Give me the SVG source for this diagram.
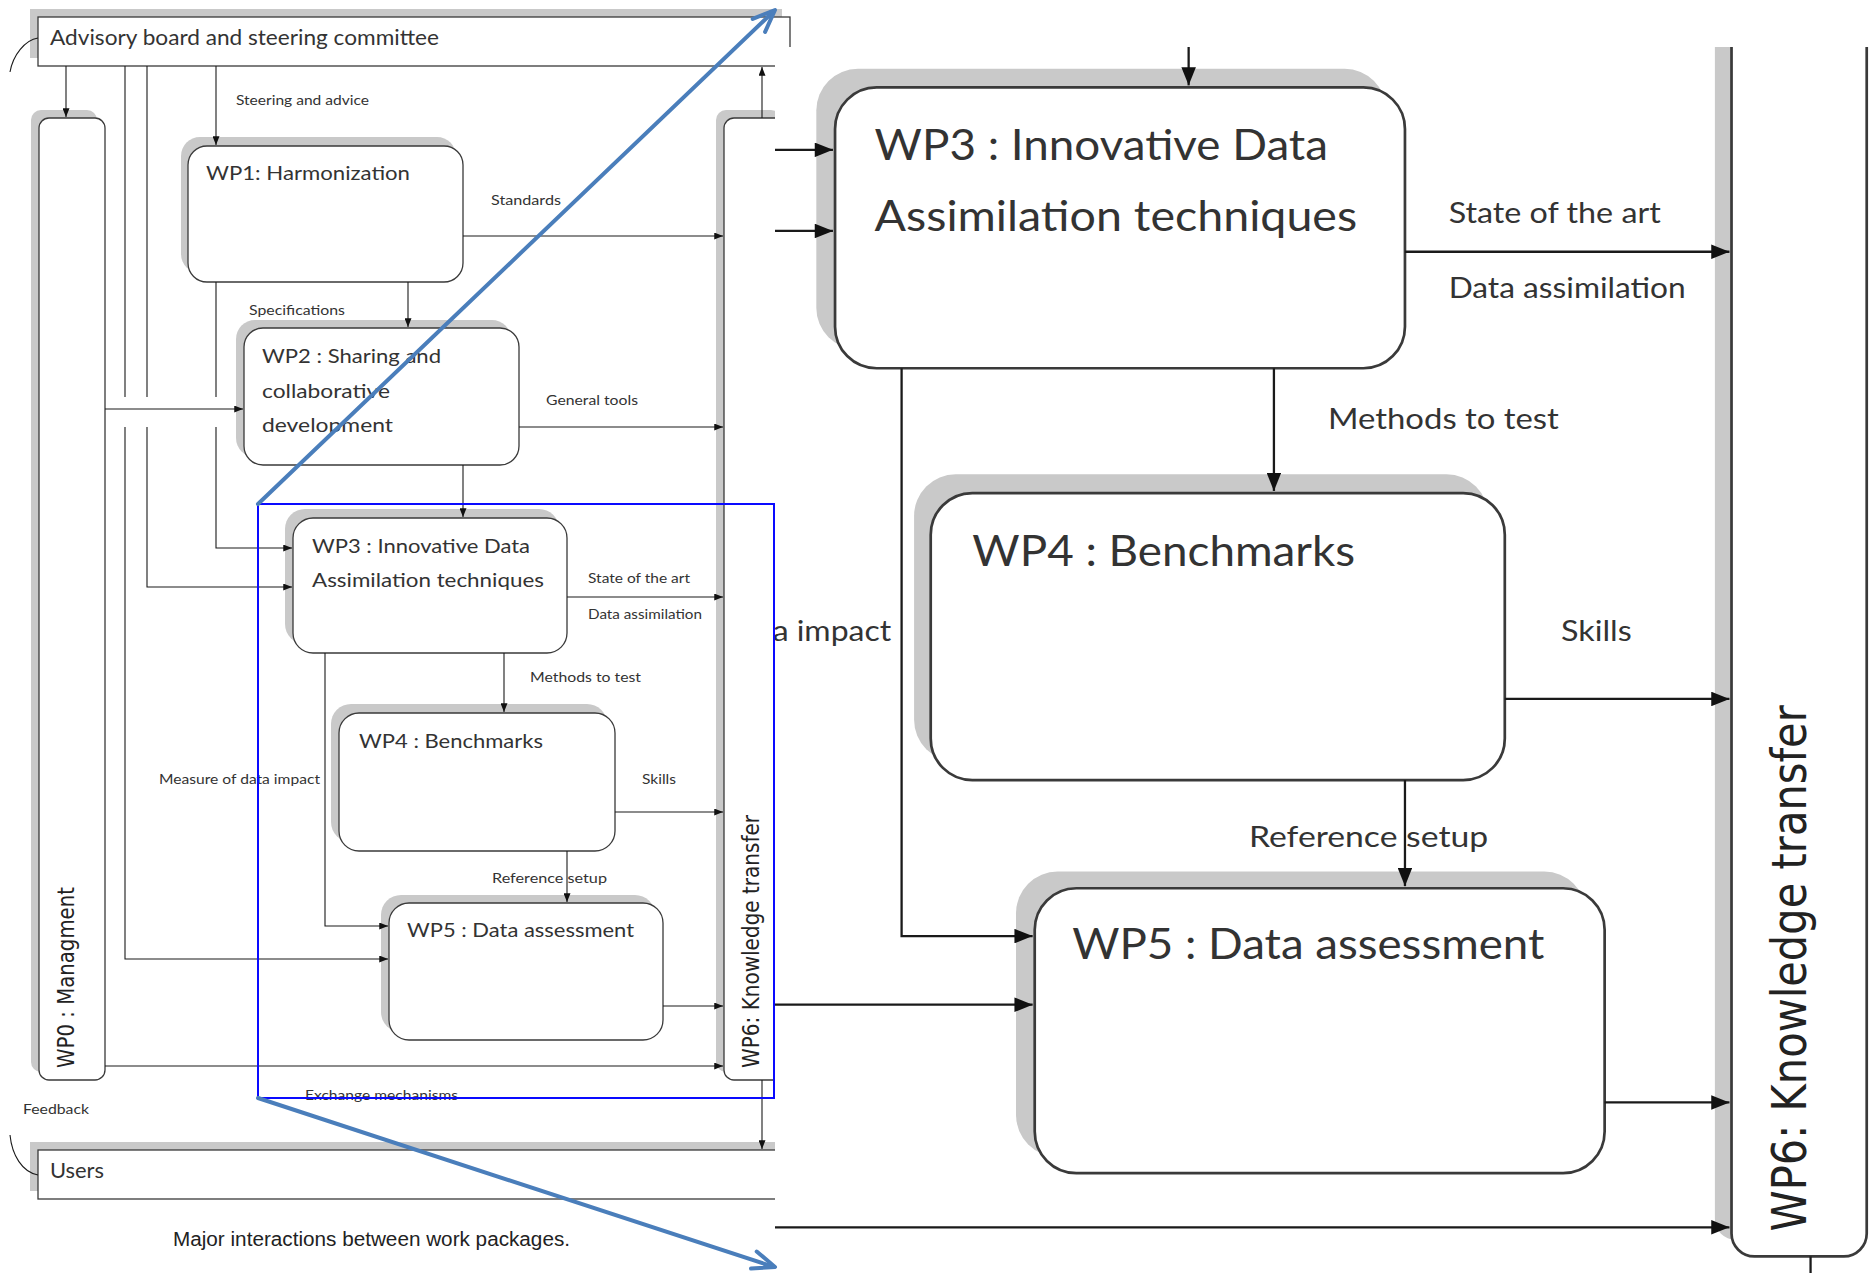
<svg xmlns="http://www.w3.org/2000/svg" width="1874" height="1273" viewBox="0 0 1874 1273">
  <defs>
    <marker id="ah" viewBox="0 0 10 8" refX="10" refY="4" markerWidth="9" markerHeight="7" markerUnits="userSpaceOnUse" orient="auto">
      <path d="M0,0 L10,4 L0,8 z" fill="#111"/>
    </marker>
    <clipPath id="insetClip">
      <rect x="775" y="47" width="1099" height="1226"/>
    </clipPath>
  </defs>
  <style>
    .box { fill: #fff; stroke: #3a3a3a; stroke-width: 1.3; }
    .sh { fill: #c9c9c9; }
    .ln { fill: none; stroke: #1a1a1a; stroke-width: 1.1; }
    .arr { marker-end: url(#ah); }
    .hd { font-family: Lato, "Liberation Sans", sans-serif; font-size: 20px; fill: #333; }
    .big { font-family: Lato, "Liberation Sans", sans-serif; font-size: 21.5px; fill: #333; }
    .lbl { font-family: Lato, "Liberation Sans", sans-serif; font-size: 14px; fill: #333; }
    .vt { font-family: "DejaVu Sans", Verdana, sans-serif; font-size: 19.7px; fill: #222; }
    .cap { font-family: "Liberation Sans", Arial, sans-serif; font-size: 19.5px; fill: #222; }
    .blue { fill: none; stroke: #4a7ebb; stroke-width: 4; stroke-linecap: round; stroke-linejoin: round; }
  </style>

  <rect width="1874" height="1273" fill="#fff"/>

  <!-- ===== Overview panel ===== -->
  <g id="advisory">
    <rect class="sh" x="30" y="9" width="752" height="49"/>
    <rect class="box" x="38" y="17" width="752" height="49"/>
    <text class="big" x="50" y="45" textLength="389" lengthAdjust="spacingAndGlyphs">Advisory board and steering committee</text>
  </g>

  <g id="wp0">
    <rect class="sh" x="31" y="110" width="66" height="962" rx="10"/>
    <rect class="box" x="39" y="118" width="66" height="962" rx="10"/>
    <text class="vt" transform="translate(73.5,1068) rotate(-90) scale(1,1.15)" textLength="181" lengthAdjust="spacingAndGlyphs">WP0 : Managment</text>
  </g>

  <g id="wp6">
    <rect class="sh" x="716" y="110" width="65" height="962" rx="10"/>
    <rect class="box" x="724" y="118" width="65" height="962" rx="10"/>
    <text class="vt" transform="translate(759,1068) rotate(-90) scale(1,1.15)" textLength="253" lengthAdjust="spacingAndGlyphs">WP6:  Knowledge transfer</text>
  </g>

  <g id="wp1">
    <rect class="sh" x="181" y="137" width="275" height="136" rx="19"/>
    <rect class="box" x="188" y="146" width="275" height="136" rx="19"/>
    <text class="hd" x="206" y="180" textLength="204" lengthAdjust="spacingAndGlyphs">WP1: Harmonization</text>
  </g>

  <g id="wp2">
    <rect class="sh" x="236" y="320" width="275" height="137" rx="19"/>
    <rect class="box" x="244" y="328" width="275" height="137" rx="19"/>
    <text class="hd" x="262" y="363" textLength="179" lengthAdjust="spacingAndGlyphs">WP2 : Sharing and</text>
    <text class="hd" x="262" y="398" textLength="128" lengthAdjust="spacingAndGlyphs">collaborative</text>
    <text class="hd" x="262" y="432" textLength="131" lengthAdjust="spacingAndGlyphs">development</text>
  </g>

  <g id="wp3">
    <rect class="sh" x="285" y="509" width="274" height="135" rx="20"/>
    <rect class="box" x="293" y="518" width="274" height="135" rx="20"/>
    <text class="hd" x="312" y="553" textLength="218" lengthAdjust="spacingAndGlyphs">WP3 : Innovative Data</text>
    <text class="hd" x="312" y="587" textLength="232" lengthAdjust="spacingAndGlyphs">Assimilation  techniques</text>
  </g>

  <g id="wp4">
    <rect class="sh" x="331" y="704" width="276" height="138" rx="20"/>
    <rect class="box" x="339" y="713" width="276" height="138" rx="20"/>
    <text class="hd" x="359" y="748" textLength="184" lengthAdjust="spacingAndGlyphs">WP4 : Benchmarks</text>
  </g>

  <g id="wp5">
    <rect class="sh" x="381" y="895" width="274" height="137" rx="20"/>
    <rect class="box" x="389" y="903" width="274" height="137" rx="20"/>
    <text class="hd" x="407" y="937" textLength="227" lengthAdjust="spacingAndGlyphs">WP5 : Data assessment</text>
  </g>

  <g id="users">
    <rect class="sh" x="30" y="1142" width="752" height="49"/>
    <rect class="box" x="38" y="1150" width="752" height="49"/>
    <text class="big" x="50" y="1178" textLength="54" lengthAdjust="spacingAndGlyphs">Users</text>
  </g>

  <g id="connectors">
    <path class="ln arr" d="M66,66 V117"/>
    <path class="ln arr" d="M125,66 V397 M125,427 V959 H388"/>
    <path class="ln arr" d="M147,66 V397 M147,427 V587 H292"/>
    <path class="ln arr" d="M216,66 V145"/>
    <path class="ln arr" d="M216,282 V397 M216,427 V548 H292"/>
    <path class="ln arr" d="M463,236 H723"/>
    <path class="ln arr" d="M408,282 V327"/>
    <path class="ln arr" d="M105,409 H243"/>
    <path class="ln arr" d="M519,427 H723"/>
    <path class="ln arr" d="M463,465 V517"/>
    <path class="ln arr" d="M567,597 H723"/>
    <path class="ln arr" d="M504,653 V712"/>
    <path class="ln arr" d="M325,653 V926 H388"/>
    <path class="ln arr" d="M615,812 H723"/>
    <path class="ln arr" d="M567,851 V902"/>
    <path class="ln arr" d="M663,1006 H723"/>
    <path class="ln arr" d="M105,1066 H723"/>
    <path class="ln arr" d="M762,118 V67"/>
    <path class="ln arr" d="M762,1080 V1149"/>
    <path class="ln" stroke="#555" d="M38,38 C25,40 13,55 10,72"/>
    <path class="ln" stroke="#555" d="M10,1135 C12,1155 22,1172 38,1175"/>

    <text class="lbl" x="236" y="105" textLength="133" lengthAdjust="spacingAndGlyphs">Steering and advice</text>
    <text class="lbl" x="491" y="205" textLength="70" lengthAdjust="spacingAndGlyphs">Standards</text>
    <text class="lbl" x="249" y="315" textLength="96" lengthAdjust="spacingAndGlyphs">Specifications</text>
    <text class="lbl" x="546" y="405" textLength="92" lengthAdjust="spacingAndGlyphs">General tools</text>
    <text class="lbl" x="588" y="583" textLength="102" lengthAdjust="spacingAndGlyphs">State of the art</text>
    <text class="lbl" x="588" y="619" textLength="114" lengthAdjust="spacingAndGlyphs">Data assimilation</text>
    <text class="lbl" x="530" y="682" textLength="111" lengthAdjust="spacingAndGlyphs">Methods to test</text>
    <text class="lbl" x="159" y="784" textLength="161" lengthAdjust="spacingAndGlyphs">Measure of data impact</text>
    <text class="lbl" x="642" y="784" textLength="34" lengthAdjust="spacingAndGlyphs">Skills</text>
    <text class="lbl" x="492" y="883" textLength="115" lengthAdjust="spacingAndGlyphs">Reference setup</text>
    <text class="lbl" x="305" y="1100" textLength="153" lengthAdjust="spacingAndGlyphs">Exchange mechanisms</text>
    <text class="lbl" x="23" y="1114" textLength="66" lengthAdjust="spacingAndGlyphs">Feedback</text>
  </g>

  <text id="caption" class="cap" x="173" y="1246" textLength="397" lengthAdjust="spacingAndGlyphs">Major interactions between work packages.</text>

  <!-- ===== Magnified detail of WP3-WP6 ===== -->
  <rect x="775" y="47" width="1099" height="1226" fill="#fff"/>
  <g id="detail" clip-path="url(#insetClip)">
    <g transform="translate(225.6,-990) scale(2.08)">
      <g id="wp3-detail">
        <rect class="sh" x="284" y="509" width="274" height="135" rx="20"/>
        <rect class="box" x="293" y="518" width="274" height="135" rx="20"/>
        <text class="hd" x="312" y="553" textLength="218" lengthAdjust="spacingAndGlyphs">WP3 : Innovative Data</text>
        <text class="hd" x="312" y="587" textLength="232" lengthAdjust="spacingAndGlyphs">Assimilation  techniques</text>
      </g>
      <g id="wp4-detail">
        <rect class="sh" x="331" y="704" width="276" height="138" rx="20"/>
        <rect class="box" x="339" y="713" width="276" height="138" rx="20"/>
        <text class="hd" x="359" y="748" textLength="184" lengthAdjust="spacingAndGlyphs">WP4 : Benchmarks</text>
      </g>
      <g id="wp5-detail">
        <rect class="sh" x="380" y="895" width="274" height="137" rx="20"/>
        <rect class="box" x="389" y="903" width="274" height="137" rx="20"/>
        <text class="hd" x="407" y="937" textLength="227" lengthAdjust="spacingAndGlyphs">WP5 : Data assessment</text>
      </g>
      <g id="wp6-detail">
        <rect class="sh" x="716" y="110" width="65" height="962" rx="10"/>
        <rect class="box" x="724" y="118" width="65" height="962" rx="11"/>
        <text class="vt" transform="translate(760,1068) rotate(-90) scale(1,1.15)" textLength="253" lengthAdjust="spacingAndGlyphs">WP6:  Knowledge transfer</text>
      </g>
      <g id="connectors-detail">
        <path class="ln arr" d="M463,465 V517"/>
        <path class="ln arr" d="M250,548 H292"/>
        <path class="ln arr" d="M250,587 H292"/>
        <path class="ln arr" d="M567,597 H723"/>
        <path class="ln arr" d="M504,653 V712"/>
        <path class="ln arr" d="M325,653 V926 H388"/>
        <path class="ln arr" d="M615,812 H723"/>
        <path class="ln arr" d="M567,851 V902"/>
        <path class="ln arr" d="M250,959 H388"/>
        <path class="ln arr" d="M663,1006 H723"/>
        <path class="ln arr" d="M250,1066 H723"/>
        <path class="ln" d="M762,1080 V1100"/>
        <text class="lbl" x="588" y="583" textLength="102" lengthAdjust="spacingAndGlyphs">State of the art</text>
        <text class="lbl" x="588" y="619" textLength="114" lengthAdjust="spacingAndGlyphs">Data assimilation</text>
        <text class="lbl" x="530" y="682" textLength="111" lengthAdjust="spacingAndGlyphs">Methods to test</text>
        <text class="lbl" x="320" y="784" text-anchor="end" textLength="57" lengthAdjust="spacingAndGlyphs">a impact</text>
        <text class="lbl" x="642" y="784" textLength="34" lengthAdjust="spacingAndGlyphs">Skills</text>
        <text class="lbl" x="492" y="883" textLength="115" lengthAdjust="spacingAndGlyphs">Reference setup</text>
      </g>
    </g>
  </g>

  <!-- ===== Zoom callout ===== -->
  <g id="callout">
    <rect x="258" y="504" width="516" height="594" fill="none" stroke="#0a0aff" stroke-width="2"/>
    <path class="blue" d="M258,504 L774,11"/>
    <path class="blue" d="M752.7,18.9 L775,10 L765.1,31.9"/>
    <path class="blue" d="M258,1098 L774,1267"/>
    <path class="blue" d="M756.7,1251.5 L775,1267 L751,1268.6"/>
  </g>
</svg>
